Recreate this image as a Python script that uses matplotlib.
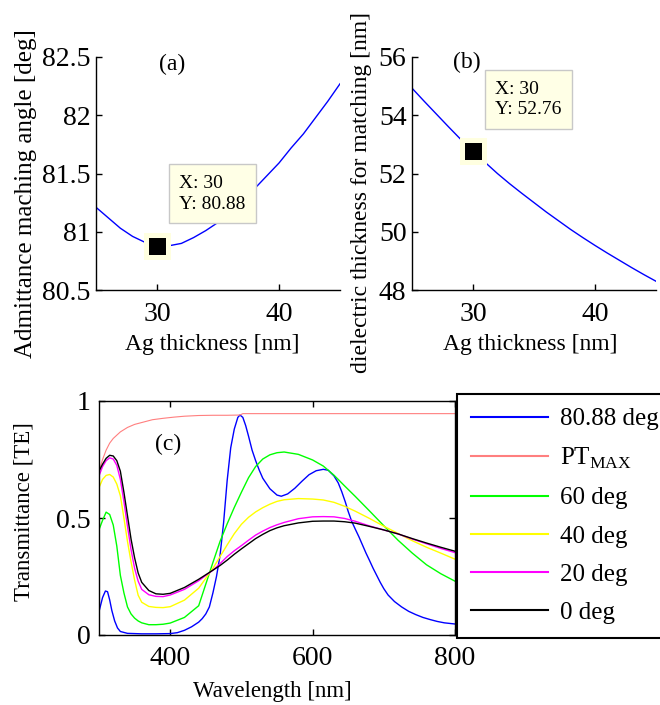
import matplotlib
matplotlib.use("Agg")
import matplotlib.pyplot as plt
import numpy as np

plt.rcParams['font.family'] = ['Liberation Serif', 'DejaVu Serif']
plt.rcParams['mathtext.fontset'] = 'custom'
plt.rcParams['mathtext.rm'] = 'Liberation Serif'

# ---------------- data ----------------
ag_thickness = [25, 26, 27, 28, 29, 30, 31, 32, 33, 34, 35, 36, 37, 38, 39, 40, 41, 42, 43, 44, 45]
match_angle = [81.21, 81.12, 81.03, 80.96, 80.91, 80.88, 80.88, 80.90, 80.95, 81.01, 81.08,
               81.17, 81.27, 81.37, 81.48, 81.59, 81.72, 81.84, 81.98, 82.12, 82.27]
diel_thickness = [54.93, 54.48, 54.04, 53.60, 53.17, 52.76, 52.38, 52.00, 51.65, 51.32, 51.00,
                  50.68, 50.38, 50.08, 49.80, 49.53, 49.27, 49.02, 48.77, 48.53, 48.30]
tip_x = 30
tip_a = 80.88
tip_b = 52.76

wl = [300, 305, 310, 315, 320, 325, 330, 335, 340, 345, 350, 355, 360, 370, 380, 390, 400,
      420, 440, 460, 470, 480, 490, 500, 510, 520, 530, 540, 550, 560, 580, 600, 615, 630,
      645, 660, 680, 700, 720, 740, 760, 780, 800]
t_0deg = [0.70, 0.73, 0.755, 0.768, 0.765, 0.745, 0.70, 0.61, 0.51, 0.41, 0.33, 0.265, 0.225,
          0.19, 0.176, 0.174, 0.178, 0.203, 0.238, 0.277, 0.297, 0.32, 0.345, 0.368, 0.39, 0.412,
          0.43, 0.446, 0.458, 0.467, 0.479, 0.486, 0.487, 0.487, 0.484, 0.478, 0.464, 0.449,
          0.432, 0.412, 0.393, 0.375, 0.358]
t_20deg = [0.68, 0.72, 0.745, 0.757, 0.752, 0.725, 0.665, 0.57, 0.465, 0.365, 0.285, 0.23, 0.195,
           0.172, 0.165, 0.164, 0.171, 0.195, 0.232, 0.277, 0.305, 0.335, 0.36, 0.382, 0.405,
           0.427, 0.444, 0.459, 0.471, 0.481, 0.497, 0.505, 0.506, 0.505, 0.498, 0.486, 0.466,
           0.449, 0.432, 0.41, 0.39, 0.37, 0.352]
t_40deg = [0.63, 0.665, 0.682, 0.686, 0.675, 0.645, 0.595, 0.50, 0.40, 0.313, 0.235, 0.17, 0.14,
           0.122, 0.118, 0.117, 0.121, 0.149, 0.20, 0.285, 0.335, 0.385, 0.433, 0.473, 0.503,
           0.526, 0.544, 0.559, 0.571, 0.578, 0.583, 0.581, 0.577, 0.567, 0.55, 0.529, 0.498,
           0.465, 0.434, 0.403, 0.375, 0.35, 0.324]
t_60deg = [0.45, 0.49, 0.525, 0.515, 0.47, 0.38, 0.255, 0.18, 0.12, 0.09, 0.072, 0.06, 0.052,
           0.044, 0.044, 0.046, 0.051, 0.075, 0.125, 0.31, 0.40, 0.475, 0.545, 0.61, 0.672,
           0.72, 0.752, 0.77, 0.779, 0.782, 0.772, 0.748, 0.722, 0.683, 0.637, 0.592, 0.53,
           0.467, 0.405, 0.35, 0.30, 0.262, 0.23]

wl_match = [300, 305, 309, 312, 315, 318, 322, 326, 330, 340, 360, 380, 400, 410, 420, 430, 440,
            445, 450, 455, 460, 465, 470, 475, 480, 485, 490, 495, 498, 502, 506, 510, 515, 520,
            525, 530, 540, 550, 556, 565, 575, 585, 595, 605, 615, 622, 630, 636, 641, 646, 650,
            655, 660, 665, 670, 675, 680, 685, 690, 695, 700, 706, 715, 725, 735, 745, 755, 765,
            775, 785, 800]
t_match = [0.10, 0.16, 0.188, 0.185, 0.15, 0.105, 0.06, 0.03, 0.015, 0.007, 0.005, 0.005, 0.006,
           0.01, 0.02, 0.035, 0.055, 0.07, 0.09, 0.12, 0.18, 0.25, 0.34, 0.48, 0.66, 0.80, 0.88,
           0.93, 0.94, 0.93, 0.895, 0.85, 0.79, 0.745, 0.705, 0.67, 0.625, 0.598, 0.593, 0.603,
           0.627, 0.657, 0.685, 0.702, 0.708, 0.704, 0.68, 0.65, 0.612, 0.568, 0.528, 0.485,
           0.452, 0.42, 0.385, 0.35, 0.318, 0.285, 0.255, 0.225, 0.198, 0.171, 0.143, 0.12,
           0.101, 0.087, 0.075, 0.066, 0.058, 0.052, 0.047]

wl_ptmax = [300, 305, 310, 315, 320, 330, 340, 350, 360, 375, 390, 405, 420, 440, 460, 480,
            498, 502, 800]
t_ptmax = [0.70, 0.75, 0.79, 0.82, 0.84, 0.868, 0.887, 0.90, 0.908, 0.92, 0.926, 0.931, 0.935,
           0.938, 0.939, 0.939, 0.94, 0.946, 0.946]

legend_labels = ['80.88 deg', 'PT$_{\\mathregular{MAX}}$', '60 deg', '40 deg', '20 deg', '0 deg']

# ---------------- figure ----------------
W, H = 660, 705
fig = plt.figure(figsize=(W / 100, H / 100), dpi=100)

TICK_FS = 20
TIP_FS = 14


def style_axes(ax, box=False, xpad=9, ypad=4):
    for s in ['top', 'right']:
        ax.spines[s].set_visible(box)
    for s in ax.spines.values():
        s.set_linewidth(1.0)
    ax.tick_params(direction='in', length=4, width=1, labelsize=TICK_FS,
                   top=box, right=box)
    ax.tick_params(axis='x', pad=xpad)
    ax.tick_params(axis='y', pad=ypad)


def datatip(ax, x, y, text):
    ax.plot([x], [y], marker='s', markersize=16.5, markerfacecolor='black',
            markeredgecolor='#ffffe0', markeredgewidth=3.6, zorder=5, clip_on=False)
    ax.annotate(text, xy=(x, y), xytext=(16, 51), textcoords='offset points',
                ha='left', va='top', fontsize=TIP_FS, linespacing=1.3,
                bbox=dict(boxstyle='square,pad=0.55', fc='#ffffe6', ec='#c8c8c8', lw=1),
                zorder=6)


# (a)
axa = fig.add_axes([96 / W, 1 - 290 / H, 244 / W, 233 / H])
axa.plot(ag_thickness, match_angle, color='#0000ff', lw=1.0)
axa.set_xlim(25, 45)
axa.set_ylim(80.5, 82.5)
axa.set_xticks([30, 40])
axa.set_yticks([80.5, 81, 81.5, 82, 82.5])
axa.set_yticklabels(['80.5', '81', '81.5', '82', '82.5'])
style_axes(axa)
axa.set_xlabel('Ag thickness [nm]', fontsize=17)
axa.xaxis.set_label_coords(0.475, -0.188)
axa.set_ylabel('Admittance maching angle [deg]', fontsize=18)
axa.yaxis.set_label_coords(-0.242, 0.412)
axa.text(31.2, 82.44, '(a)', fontsize=17, ha='center', va='center')
datatip(axa, tip_x, tip_a, 'X: 30\nY: 80.88')

# (b)
axb = fig.add_axes([412 / W, 1 - 290 / H, 244 / W, 233 / H])
axb.plot(ag_thickness, diel_thickness, color='#0000ff', lw=1.0)
axb.set_xlim(25, 45)
axb.set_ylim(48, 56)
axb.set_xticks([30, 40])
axb.set_yticks([48, 50, 52, 54, 56])
style_axes(axb)
axb.set_xlabel('Ag thickness [nm]', fontsize=17)
axb.xaxis.set_label_coords(0.484, -0.188)
axb.set_ylabel('dielectric thickness for matching [nm]', fontsize=17)
axb.yaxis.set_label_coords(-0.164, 0.42)
axb.text(29.5, 55.8, '(b)', fontsize=17, ha='center', va='center')
datatip(axb, tip_x, tip_b, 'X: 30\nY: 52.76')

# (c)
axc = fig.add_axes([99 / W, 1 - 635 / H, 356 / W, 234 / H])
l1, = axc.plot(wl_match, t_match, color='#0000ff', lw=1.0)
l2, = axc.plot(wl_ptmax, t_ptmax, color='#ff7f7f', lw=0.8)
l3, = axc.plot(wl, t_60deg, color='#00ff00', lw=1.0)
l4, = axc.plot(wl, t_40deg, color='#ffff00', lw=1.0)
l5, = axc.plot(wl, t_20deg, color='#ff00ff', lw=1.0)
l6, = axc.plot(wl, t_0deg, color='black', lw=1.0)
axc.set_xlim(300, 800)
axc.set_ylim(0, 1)
axc.set_xticks([400, 600, 800])
axc.set_yticks([0, 0.5, 1])
axc.set_yticklabels(['0', '0.5', '1'])
style_axes(axc, box=True, xpad=8, ypad=6)
axc.set_xlabel('Wavelength [nm]', fontsize=16.5)
axc.xaxis.set_label_coords(0.487, -0.195)
axc.set_ylabel('Transmittance [TE]', fontsize=16.5)
axc.yaxis.set_label_coords(-0.18, 0.528)
axc.text(396.8, 0.815, '(c)', fontsize=17, ha='center', va='center')

leg = axc.legend([l1, l2, l3, l4, l5, l6], legend_labels, loc='upper left',
                 bbox_to_anchor=(457 / W, 1 - 394 / H), bbox_transform=fig.transFigure,
                 borderaxespad=0, fontsize=18, frameon=True, fancybox=False,
                 edgecolor='black', framealpha=1, handlelength=3.1, handletextpad=0.45,
                 borderpad=0.55, labelspacing=0.63)
leg.get_frame().set_linewidth(1.5)
for h in leg.legend_handles:
    h.set_linewidth(1.5)

fig.savefig('out.png', dpi=100, facecolor='white')
